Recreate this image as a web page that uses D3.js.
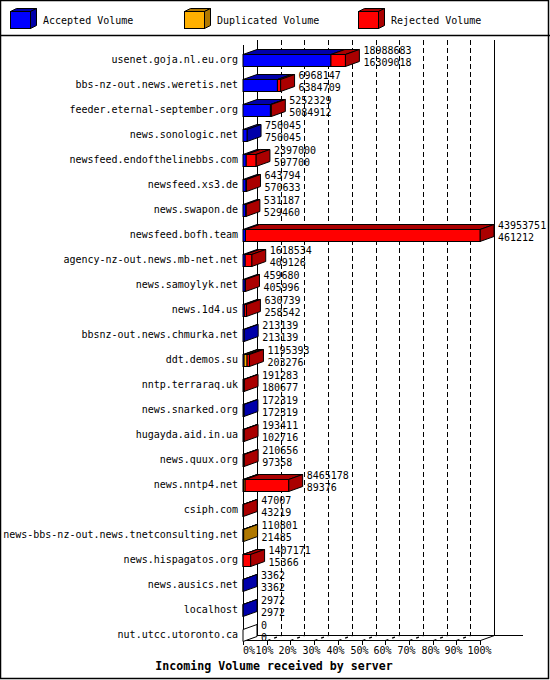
<!DOCTYPE html>
<html><head><meta charset="utf-8">
<script src="https://cdn.jsdelivr.net/npm/d3@7"></script>
<style>
html,body{margin:0;padding:0;background:#fff;}
text{font-family:"DejaVu Sans Mono","Liberation Mono",monospace;font-size:10px;fill:#000;}
</style></head>
<body><svg id="c" width="550" height="680"></svg>
<script>
const hosts = ["usenet.goja.nl.eu.org","bbs-nz-out.news.weretis.net","feeder.eternal-september.org","news.sonologic.net","newsfeed.endofthelinebbs.com","newsfeed.xs3.de","news.swapon.de","newsfeed.bofh.team","agency-nz-out.news.mb-net.net","news.samoylyk.net","news.1d4.us","bbsnz-out.news.chmurka.net","ddt.demos.su","nntp.terraraq.uk","news.snarked.org","hugayda.aid.in.ua","news.quux.org","news.nntp4.net","csiph.com","news-bbs-nz-out.news.tnetconsulting.net","news.hispagatos.org","news.ausics.net","localhost","nut.utcc.utoronto.ca"];
const totals = [18988683,6968147,5252329,750045,2397000,643794,531187,43953751,1618534,459680,630739,213139,1195393,191283,172319,193411,210656,8465178,47007,110801,1407171,3362,2972,0];
const accepted = [16309018,6384709,5084912,750045,597700,570633,529460,461212,409126,405996,258542,213139,203276,180677,172319,102716,97358,89376,43219,21485,15366,3362,2972,0];
const duplicated = [0,0,0,0,0,0,0,0,0,0,0,0,550000,0,0,0,0,300000,0,89316,0,0,0,0];
const rejected = [2679665,583438,167417,0,1799300,73161,1727,43492539,1209408,53684,372197,0,442117,10606,0,90695,113298,8075802,3788,0,1391805,0,0,0];
const seriesNames = ["Accepted Volume","Duplicated Volume","Rejected Volume"];
const tickLabels = ["0%","10%","20%","30%","40%","50%","60%","70%","80%","90%","100%"];
const axisTitle = "Incoming Volume received by server";

const front = ["#0000ff","#ffb000","#ff0000"];
const dark = ["#0000aa","#b07800","#aa0000"];
const DX = 14, DY = 5, BH = 12;

const svg = d3.select("#c");
const maxT = d3.max(totals);
const x = d3.scaleLinear().domain([0, maxT]).range([243, 480]);
const xp = d3.scaleLinear().domain([0, 100]).range([243, 480]);
const y = d3.scalePoint().domain(hosts).range([54, 54 + 25 * (hosts.length - 1)]);

// border and header
svg.append("rect").attr("x",0.5).attr("y",0.5).attr("width",548).attr("height",678)
  .attr("fill","none").attr("stroke","#000").attr("stroke-width",1.5);
svg.append("line").attr("x1",0).attr("x2",550).attr("y1",35.5).attr("y2",35.5).attr("stroke","#000").attr("stroke-width",1.5);

// legend
const legX = [10,184,358];
seriesNames.forEach((n,i)=>{
  const g = svg.append("g").attr("stroke","#000").attr("stroke-width",1);
  const x0 = legX[i]+0.5, y0 = 11.5, w = 20, h = 17, d = 6, e = 3;
  g.append("polygon").attr("points",[[x0,y0],[x0+d,y0-e],[x0+w+d,y0-e],[x0+w,y0]].join(" ")).attr("fill",dark[i]);
  g.append("polygon").attr("points",[[x0+w,y0],[x0+w+d,y0-e],[x0+w+d,y0+h-e],[x0+w,y0+h]].join(" ")).attr("fill",dark[i]);
  g.append("rect").attr("x",x0).attr("y",y0).attr("width",w).attr("height",h).attr("fill",front[i]);
  svg.append("text").attr("x",legX[i]+33).attr("y",23.5).text(n);
});

// back wall grid
const gy0 = 40, gy1 = 635;
tickLabels.forEach((t,i)=>{
  const xb = Math.round(xp(i*10)+DX)+0.5;
  const ln = svg.append("line").attr("x1",xb).attr("x2",xb).attr("y1",gy0).attr("y2",gy1).attr("stroke","#000");
  if(i!==0 && i!==10) ln.attr("stroke-dasharray","5,3");
});
// left wall front line
svg.append("line").attr("x1",243.5).attr("x2",243.5).attr("y1",45).attr("y2",640).attr("stroke","#000");
// floor
svg.append("line").attr("x1",257).attr("x2",523).attr("y1",635.5).attr("y2",635.5).attr("stroke","#000");
svg.append("line").attr("x1",243).attr("x2",481).attr("y1",640.5).attr("y2",640.5).attr("stroke","#000");
svg.append("line").attr("x1",243.5).attr("x2",257.5).attr("y1",640.5).attr("y2",635.5).attr("stroke","#000");
svg.append("line").attr("x1",480.5).attr("x2",494.5).attr("y1",640.5).attr("y2",635.5).attr("stroke","#000");
tickLabels.forEach((t,i)=>{
  const xt = Math.round(xp(i*10))+0.5;
  if(i>0 && i<10) svg.append("line").attr("x1",xt).attr("x2",xt+DX).attr("y1",640.5).attr("y2",635.5)
     .attr("stroke","#000").attr("stroke-width",1.3).attr("stroke-dasharray","3,4");
  svg.append("line").attr("x1",xt).attr("x2",xt).attr("y1",640).attr("y2",645).attr("stroke","#000");
  svg.append("text").attr("x", i===0 ? 243 : (i===10 ? xt-1 : xt-3)).attr("y",654)
     .attr("text-anchor", i===0 ? "start" : "middle").text(t);
});
svg.append("text").attr("x",274).attr("y",670).attr("text-anchor","middle")
  .style("font-weight","bold").style("font-size","11.6px").text(axisTitle);

// bars
hosts.forEach((h,r)=>{
  const top = y(h)+0.5, bot = top+BH;
  const vals = [accepted[r], duplicated[r], rejected[r]];
  const g = svg.append("g").attr("stroke","#000").attr("stroke-width",1).attr("stroke-linejoin","miter");
  let cum = 0, last = -1, lastX = x(0);
  const segs = [];
  vals.forEach((v,i)=>{
    if(v>0){ const a = x(cum), b = x(cum+v); segs.push([a,b,i]); last = i; lastX = b; }
    cum += v;
  });
  segs.forEach(([a,b,i])=>{
    g.append("polygon").attr("points",[[a,top],[a+DX,top-DY],[b+DX,top-DY],[b,top]].join(" ")).attr("fill",dark[i]);
  });
  const xr = lastX;
  g.append("polygon").attr("points",[[xr,top],[xr+DX,top-DY],[xr+DX,bot-DY],[xr,bot]].join(" "))
   .attr("fill", last>=0 ? dark[last] : "#fff");
  segs.forEach(([a,b,i])=>{
    g.append("rect").attr("x",a).attr("y",top).attr("width",b-a).attr("height",BH).attr("fill",front[i]);
  });
  svg.append("text").attr("x",238).attr("y",top+8.5).attr("text-anchor","end").text(h);
  svg.append("text").attr("x",xr+DX+4).attr("y",top-1).text(totals[r]);
  svg.append("text").attr("x",xr+DX+4).attr("y",top+11).text(accepted[r]);
});
</script></body></html>
